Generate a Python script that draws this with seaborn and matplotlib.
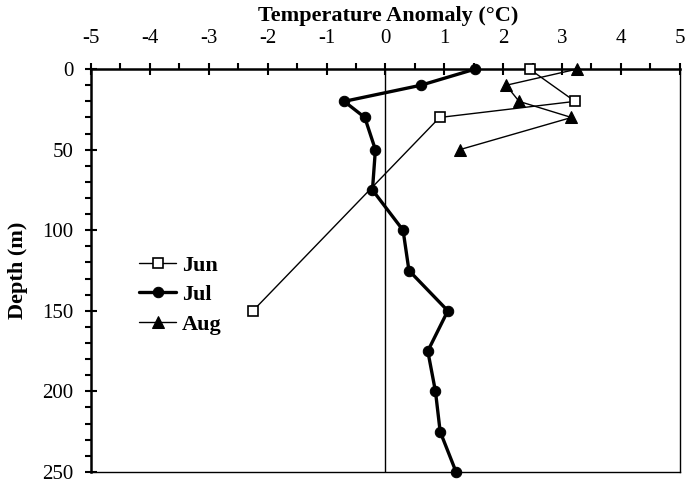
import matplotlib
matplotlib.use("Agg")
import matplotlib.pyplot as plt
import seaborn as sns
import pandas as pd
from matplotlib.ticker import MultipleLocator

jun_temp = [2.45, 3.22, 0.92, -2.25]
jun_depth = [0, 20, 30, 150]
jul_temp = [1.52, 0.6, -0.7, -0.35, -0.17, -0.22, 0.3, 0.4, 1.06, 0.72, 0.85, 0.93, 1.2]
jul_depth = [0, 10, 20, 30, 50, 75, 100, 125, 150, 175, 200, 225, 250]
aug_temp = [3.25, 2.05, 2.27, 3.16, 1.26]
aug_depth = [0, 10, 20, 30, 50]
x_ticks = [-5, -4, -3, -2, -1, 0, 1, 2, 3, 4, 5]
y_ticks = [0, 50, 100, 150, 200, 250]

sns.set_theme(style="white")
plt.rcParams['font.family'] = ['Liberation Serif', 'DejaVu Serif']
plt.rcParams['text.color'] = 'black'
plt.rcParams['axes.labelcolor'] = 'black'
plt.rcParams['xtick.color'] = 'black'
plt.rcParams['ytick.color'] = 'black'

FS = 15
FSB = 16

fig = plt.figure(figsize=(6.87, 4.87), dpi=100)
ax = fig.add_axes([0.1325, 0.031, 0.857, 0.827])

sns.lineplot(x=jun_temp, y=jun_depth, sort=False, estimator=None, ax=ax,
             color='black', lw=1.0, marker='s', markersize=6.5,
             markerfacecolor='white', markeredgecolor='black', markeredgewidth=1.2,
             label='Jun', clip_on=False, zorder=5)
sns.lineplot(x=jul_temp, y=jul_depth, sort=False, estimator=None, ax=ax,
             color='black', lw=2.4, marker='o', markersize=7.5,
             markerfacecolor='black', markeredgecolor='black', label='Jul',
             clip_on=False, zorder=5)
sns.lineplot(x=aug_temp, y=aug_depth, sort=False, estimator=None, ax=ax,
             color='black', lw=1.0, marker='^', markersize=8,
             markerfacecolor='black', markeredgecolor='black', label='Aug',
             clip_on=False, zorder=5)

ax.axvline(0, color='black', lw=1.0, zorder=1)

ax.set_xlim(-5, 5)
ax.set_ylim(250, 0)
ax.set_xticks(x_ticks)
ax.set_xticklabels([str(t) for t in x_ticks])
ax.set_yticks(y_ticks)
ax.set_yticklabels([str(t) for t in y_ticks])
ax.xaxis.set_minor_locator(MultipleLocator(0.5))
ax.yaxis.set_minor_locator(MultipleLocator(10))
ax.xaxis.tick_top()
ax.xaxis.set_label_position('top')

ax.tick_params(axis='x', which='major', top=True, bottom=False, direction='inout',
               length=9, width=1.5, labelsize=FS, pad=11)
ax.tick_params(axis='x', which='minor', top=True, bottom=False, direction='out',
               length=4, width=1.5)
ax.tick_params(axis='y', which='major', left=True, direction='inout',
               length=9, width=1.5, labelsize=FS, pad=8)
ax.tick_params(axis='y', which='minor', left=True, direction='out',
               length=4, width=1.5)

for side in ['top', 'left']:
    ax.spines[side].set_linewidth(1.8)
    ax.spines[side].set_color('black')
for side in ['right', 'bottom']:
    ax.spines[side].set_linewidth(1.0)
    ax.spines[side].set_color('black')
    ax.spines[side].set_visible(True)

ax.set_xlabel('Temperature Anomaly (°C)', fontsize=FSB, fontweight='bold')
ax.xaxis.set_label_coords(0.504, 1.12)
ax.set_ylabel('Depth (m)', fontsize=FSB, fontweight='bold')
ax.yaxis.set_label_coords(-0.124, 0.5)
ax.yaxis.label.set_verticalalignment('center')

leg = ax.legend(loc='upper left', bbox_to_anchor=(0.047, 0.588), frameon=False,
                handlelength=1.7, handletextpad=0.25, labelspacing=0.4,
                prop={'weight': 'bold', 'size': FSB})

fig.savefig('out.png', dpi=100)
